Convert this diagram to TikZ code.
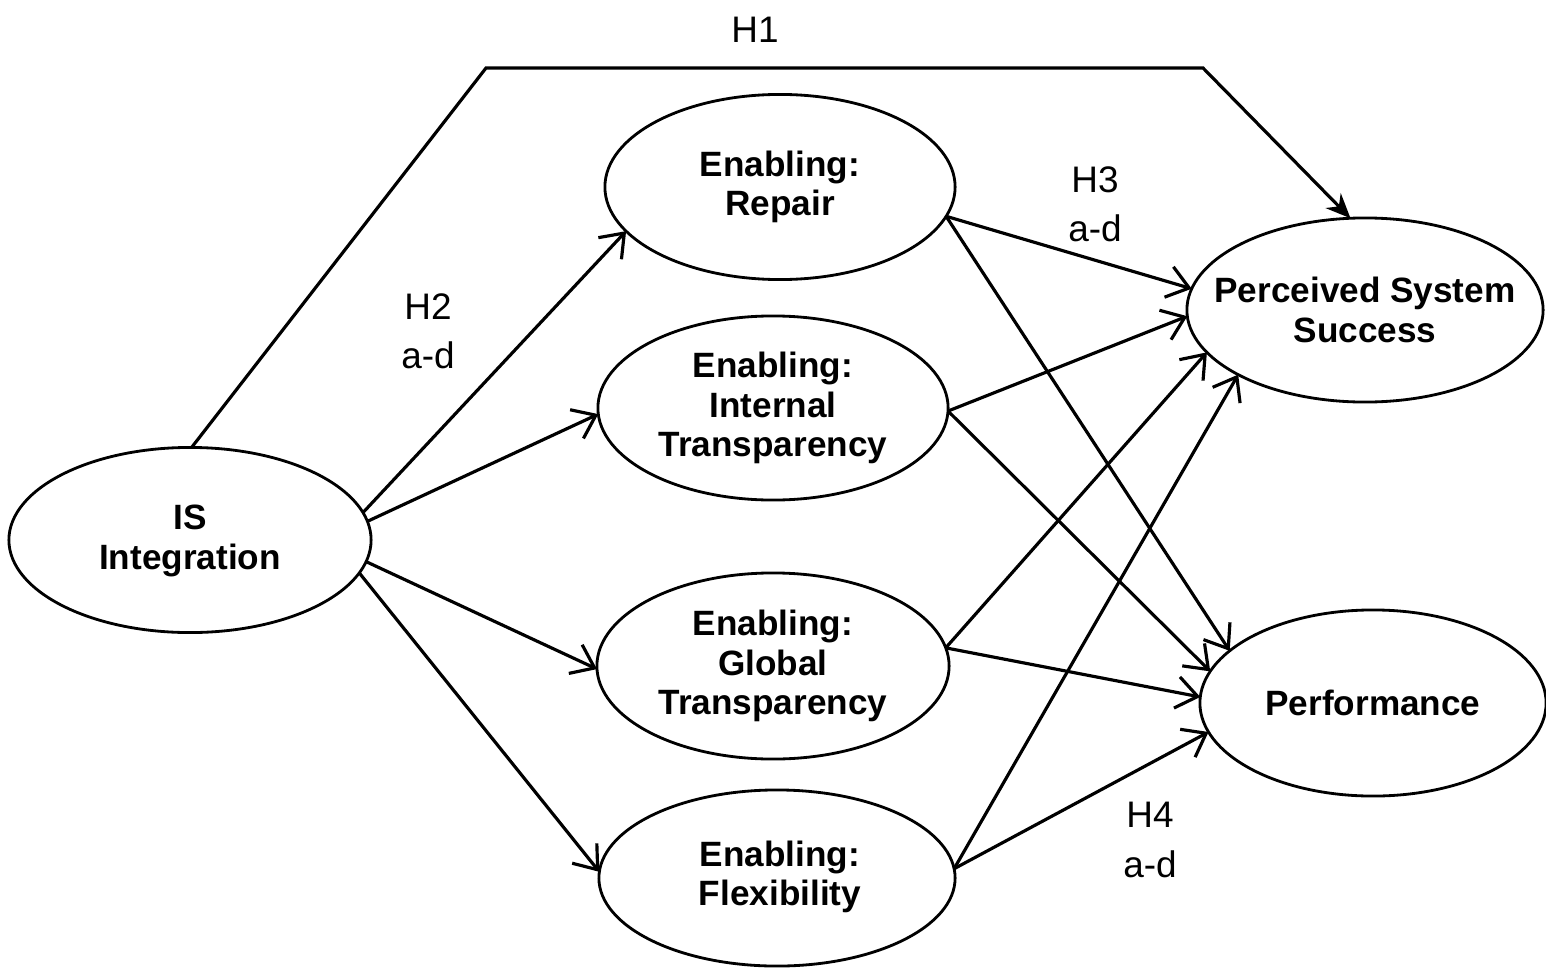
\documentclass[tikz,border=0pt]{standalone}
\usepackage{fontspec}
\setmainfont{Liberation Sans}
\usetikzlibrary{shapes.geometric,arrows.meta}
\begin{document}
\begin{tikzpicture}[x=0.01cm,y=-0.01cm,
  ell/.style={draw, ellipse, line width=0.8pt, inner sep=0pt, outer sep=0pt},
  lbl/.style={font=\bfseries\fontsize{10}{11.2}\selectfont, align=center, inner sep=0pt},
  hyp/.style={font=\fontsize{10.5}{14}\selectfont, align=center, inner sep=0pt},
  arr/.style={line width=0.9pt, -{Straight Barb[length=6pt,width=9pt,line width=0.9pt]}},
  harr/.style={line width=0.9pt, -{Stealth[length=7pt,width=6pt]}},
]
\useasboundingbox (0,0) rectangle (1546,970);

% ellipses
\node[ell, minimum width=3.62cm, minimum height=1.85cm] (is)   at (190,540) {};
\node[ell, minimum width=3.50cm, minimum height=1.85cm] (rep)  at (780,187) {};
\node[ell, minimum width=3.50cm, minimum height=1.84cm] (int)  at (773,408) {};
\node[ell, minimum width=3.52cm, minimum height=1.86cm] (glo)  at (773,666) {};
\node[ell, minimum width=3.56cm, minimum height=1.76cm] (flex) at (777,878) {};
\node[ell, minimum width=3.56cm, minimum height=1.84cm] (pss)  at (1365,310) {};
\node[ell, minimum width=3.46cm, minimum height=1.86cm] (perf) at (1373,703) {};

% texts
\node[lbl] (ist)   at (190,541) {IS\\Integration};
\node[lbl] (rept)  at (780,187) {Enabling:\\Repair};
\node[lbl] (intt)  at (773,408) {Enabling:\\Internal\\Transparency};
\node[lbl] (glot)  at (773,666) {Enabling:\\Global\\Transparency};
\node[lbl] (flext) at (780,877) {Enabling:\\Flexibility};
\node[lbl] (psst)  at (1365,310) {Perceived System\\Success};
\node[lbl] (perft) at (1373,703) {Performance};

% hypothesis labels
\node[hyp] (h1) at (755,30) {H1};
\node[hyp] (h2) at (428,331) {H2\\a-d};
\node[hyp] (h3) at (1095,204) {H3\\a-d};
\node[hyp] (h4) at (1150,840) {H4\\a-d};

% H1 path
\coordinate (h1a) at (486,68);
\coordinate (h1b) at (1203,68);
\draw[harr] (is.89) -- (h1a) -- (h1b) -- (pss.99);

% H2
\draw[arr] (is.9)   -- (rep.196);
\draw[arr] (is.6)   -- (int.182);
\draw[arr] (is.353) -- (glo.181);
\draw[arr] (is.349) -- (flex.178);

% H3 / H4
\draw[arr] (rep.350) -- (pss.173);
\draw[arr] (rep.350) -- (perf.160);
\draw[arr] (int.359) -- (pss.182);
\draw[arr] (int.359) -- (perf.169);
\draw[arr] (glo.6)   -- (pss.195);
\draw[arr] (glo.6)   -- (perf.178);
\draw[arr] (flex.3)  -- (pss.207);
\draw[arr] (flex.3)  -- (perf.190);
\end{tikzpicture}
\end{document}
